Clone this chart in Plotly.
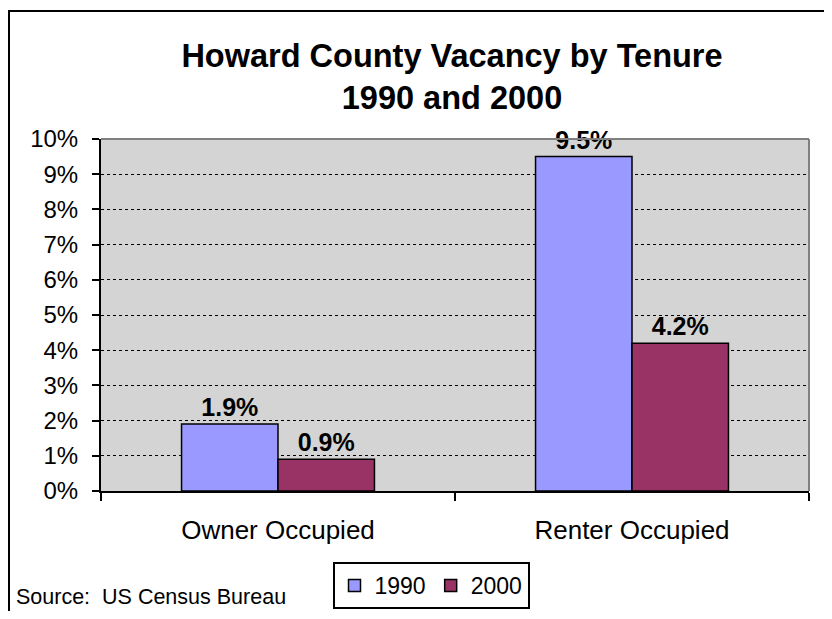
import plotly.graph_objects as go

categories = ["Owner Occupied", "Renter Occupied"]
series_names = ["1990", "2000"]
vac_1990 = [0.019, 0.095]
vac_2000 = [0.009, 0.042]
colors = ["#9999FF", "#993366"]

FONT = "Liberation Sans, Arial, sans-serif"

fig = go.Figure()
for name, vals, col in zip(series_names, [vac_1990, vac_2000], colors):
    fig.add_trace(go.Bar(
        x=categories, y=vals, name=name,
        marker=dict(color=col, line=dict(color="black", width=1.5)),
        texttemplate="<b>%{y:.1%}</b>", textposition="outside",
        textfont=dict(family=FONT, size=25, color="black"),
        cliponaxis=False,
    ))

# figure sits inside the page body (8px default margin)
OFF = 8
W, H = 816, 603
L, R, T, B = 101 - OFF, 23 - OFF, 139 - OFF, 128 - OFF
pw, ph = W - L - R, H - T - B

def px_x(p):
    return (p - OFF - L) / pw

def px_y(p):
    return (H - B - (p - OFF)) / ph

fig.update_layout(
    width=W, height=H,
    margin=dict(l=L, r=R, t=T, b=B, autoexpand=False),
    paper_bgcolor="white", plot_bgcolor="#D4D4D4",
    font=dict(family=FONT, color="black"),
    barmode="group", bargap=0.455, bargroupgap=0,
    title=dict(
        text="<b>Howard County Vacancy by Tenure<br>1990 and 2000</b>",
        font=dict(family=FONT, size=32.5, color="black"),
        x=(452 - OFF) / W, xref="container", xanchor="center",
        y=1 - (67 - OFF) / H, yref="container", yanchor="middle",
    ),
    xaxis=dict(
        showline=True, linecolor="black", linewidth=2,
        ticks="outside", ticklen=8, tickwidth=2, tickcolor="black",
        tickson="boundaries", showgrid=False,
        tickfont=dict(family=FONT, size=26, color="black"),
        ticklabelstandoff=15,
    ),
    yaxis=dict(
        range=[0, 0.1], dtick=0.01, tickformat=".0%",
        showline=True, linecolor="black", linewidth=2,
        ticks="outside", ticklen=7, tickwidth=2, tickcolor="black",
        showgrid=True, gridcolor="black", gridwidth=1, griddash="dot",
        zeroline=False,
        tickfont=dict(family=FONT, size=24, color="black"),
        ticklabelstandoff=9,
    ),
    legend=dict(
        orientation="h", x=px_x(431), xanchor="center",
        y=px_y(585.5), yanchor="middle",
        bordercolor="black", borderwidth=2, bgcolor="white",
        font=dict(family=FONT, size=23, color="black"),
        itemwidth=30, traceorder="normal",
    ),
    showlegend=True,
    annotations=[dict(
        text="Source:\u00a0 US Census Bureau", xref="paper", yref="paper",
        x=px_x(14), y=px_y(597), xanchor="left", yanchor="middle",
        showarrow=False, font=dict(family=FONT, size=21.5, color="black"),
    )],
    shapes=[
        dict(type="line", xref="paper", yref="paper", x0=0, x1=1, y0=1, y1=1,
             line=dict(color="#808080", width=2), layer="above"),
        dict(type="line", xref="paper", yref="paper", x0=1, x1=1, y0=0, y1=1,
             line=dict(color="#808080", width=2), layer="above"),
        dict(type="rect", xref="paper", yref="paper",
             x0=px_x(9), x1=px_x(900), y0=px_y(700), y1=px_y(11),
             line=dict(color="black", width=2), fillcolor="rgba(0,0,0,0)",
             layer="above"),
    ],
)

fig.write_html("out.html")
